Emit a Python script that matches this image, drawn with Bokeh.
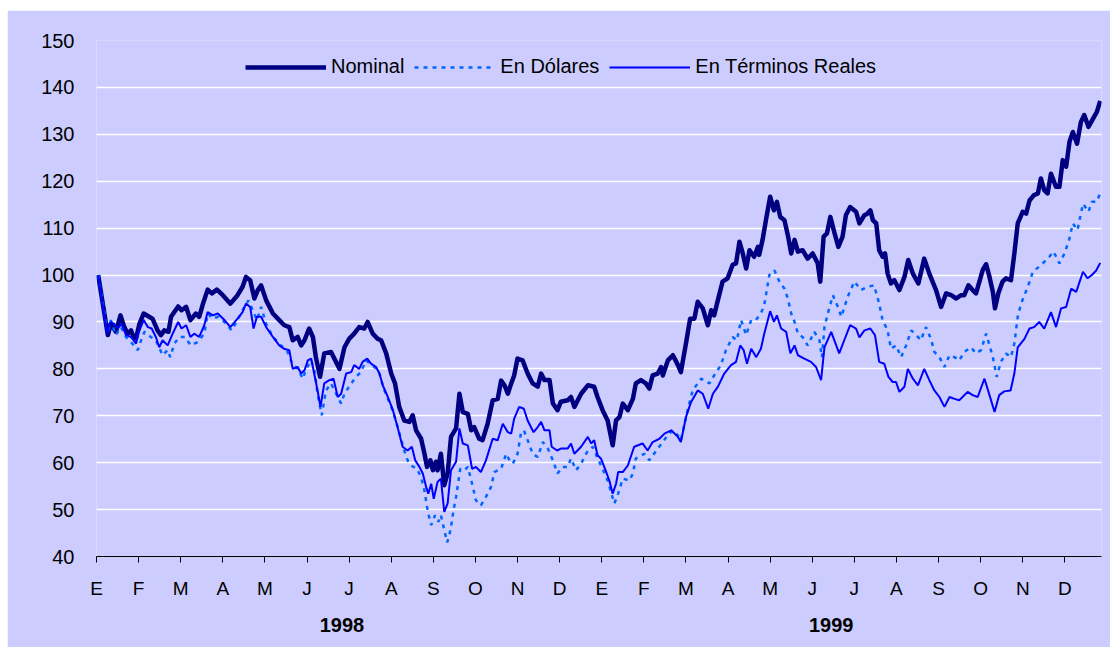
from bokeh.plotting import figure
from bokeh.models import (Range1d, FixedTicker, Legend, LegendItem, LinearAxis)
from bokeh.embed import file_html
from bokeh.resources import INLINE

# ---- data (x = months since start of Jan 1998) ----
month_letters = ["E", "F", "M", "A", "M", "J", "J", "A", "S", "O", "N", "D"]
year_labels = ["1998", "1999"]
year_centers = [5.83, 17.45]
y_ticks = [40, 50, 60, 70, 80, 90, 100, 110, 120, 130, 140, 150]

nominal_t = [0.04, 0.27, 0.34, 0.46, 0.57, 0.66, 0.74, 0.82, 0.86, 0.94, 1.02, 1.12, 1.25, 1.33, 1.45, 1.53, 1.61, 1.71, 1.77, 1.94,
             2.02, 2.13, 2.23, 2.36, 2.44, 2.52, 2.64, 2.74, 2.86, 3.00, 3.18, 3.35, 3.47, 3.55, 3.65, 3.75, 3.83, 3.91, 4.03, 4.19,
             4.34, 4.46, 4.58, 4.66, 4.78, 4.86, 4.94, 5.05, 5.14, 5.21, 5.31, 5.41, 5.57, 5.77, 5.89, 6.00, 6.12, 6.24, 6.36, 6.44,
             6.56, 6.68, 6.76, 6.88, 7.00, 7.09, 7.19, 7.31, 7.43, 7.51, 7.59, 7.71, 7.79, 7.85, 7.93, 7.99, 8.06, 8.10, 8.18, 8.26,
             8.34, 8.42, 8.54, 8.62, 8.70, 8.82, 8.90, 8.97, 9.09, 9.17, 9.29, 9.41, 9.53, 9.61, 9.69, 9.77, 9.85, 9.92, 10.00, 10.12,
             10.24, 10.36, 10.48, 10.56, 10.64, 10.76, 10.84, 10.95, 11.03, 11.19, 11.27, 11.35, 11.51, 11.67, 11.82, 11.90, 12.02, 12.14, 12.26, 12.34,
             12.42, 12.50, 12.62, 12.74, 12.81, 12.93, 13.05, 13.13, 13.21, 13.33, 13.41, 13.45, 13.57, 13.69, 13.81, 13.88, 14.00, 14.10, 14.20, 14.28,
             14.40, 14.52, 14.60, 14.67, 14.76, 14.87, 14.99, 15.11, 15.19, 15.27, 15.35, 15.43, 15.51, 15.62, 15.71, 15.74, 15.82, 15.90, 16.00, 16.09,
             16.16, 16.24, 16.34, 16.42, 16.50, 16.58, 16.66, 16.77, 16.89, 17.01, 17.13, 17.19, 17.27, 17.35, 17.43, 17.53, 17.62, 17.72, 17.80, 17.90,
             18.04, 18.12, 18.24, 18.30, 18.38, 18.44, 18.52, 18.59, 18.67, 18.73, 18.79, 18.87, 18.95, 19.07, 19.19, 19.28, 19.39, 19.52, 19.66, 19.78,
             19.94, 20.06, 20.18, 20.30, 20.42, 20.53, 20.61, 20.71, 20.81, 20.89, 20.97, 21.05, 21.13, 21.21, 21.29, 21.34, 21.42, 21.52, 21.60, 21.72,
             21.80, 21.88, 22.00, 22.08, 22.16, 22.26, 22.36, 22.43, 22.51, 22.59, 22.67, 22.79, 22.87, 22.95, 23.03, 23.11, 23.19, 23.29, 23.38, 23.46,
             23.56, 23.66, 23.76, 23.84]
nominal_v = [100.0, 87.2, 89.6, 87.9, 91.4, 88.9, 87.5, 88.2, 87.2, 86.5, 89.6, 91.8, 91.1, 90.7, 88.2, 87.2, 88.2, 87.9, 91.1, 93.3,
             92.5, 93.2, 90.4, 91.8, 91.1, 93.6, 96.9, 96.1, 96.9, 95.7, 93.9, 95.7, 97.5, 99.6, 98.9, 95.0, 96.8, 97.8, 94.6, 91.8,
             90.4, 89.3, 88.9, 86.1, 86.8, 85.0, 86.1, 88.6, 86.8, 82.5, 78.3, 83.3, 83.6, 80.0, 84.6, 86.4, 87.5, 88.9, 88.6, 90.0,
             87.5, 86.4, 86.1, 83.3, 79.0, 76.9, 71.9, 69.0, 68.7, 70.1, 66.9, 65.1, 61.9, 59.1, 60.5, 58.4, 60.2, 58.4, 61.9, 55.2,
             57.7, 65.5, 67.3, 74.7, 70.8, 70.4, 66.9, 67.6, 65.1, 64.8, 68.3, 73.3, 73.6, 77.5, 76.5, 74.7, 76.9, 78.6, 82.2, 81.8,
             79.0, 76.9, 76.2, 79.0, 77.6, 77.6, 72.6, 71.2, 73.0, 73.3, 74.0, 71.9, 74.7, 76.5, 76.2, 74.0, 71.2, 69.0, 63.7, 69.0,
             69.7, 72.6, 71.2, 73.6, 76.9, 77.6, 76.9, 75.8, 78.6, 79.0, 80.4, 78.6, 81.8, 82.9, 80.8, 79.3, 85.4, 90.7, 90.7, 94.3,
             92.9, 89.3, 92.5, 91.4, 94.7, 98.6, 99.3, 102.2, 102.5, 107.1, 104.6, 101.4, 105.3, 103.9, 106.0, 104.3, 107.5, 111.7, 116.7, 113.8,
             115.6, 112.4, 111.7, 108.5, 104.6, 107.5, 105.0, 105.3, 103.5, 104.6, 102.5, 98.6, 108.2, 108.9, 112.4, 108.9, 106.0, 108.2, 112.8, 114.5,
             113.5, 111.0, 112.8, 113.0, 113.8, 111.7, 111.0, 105.3, 103.9, 104.6, 100.3, 98.2, 98.9, 96.8, 99.6, 103.2, 100.3, 98.2, 103.5, 100.3,
             96.8, 93.2, 96.1, 95.7, 95.0, 95.7, 95.7, 97.8, 96.8, 96.1, 98.6, 101.1, 102.3, 99.6, 96.4, 92.9, 96.1, 98.6, 99.3, 98.9,
             104.6, 111.0, 113.5, 113.1, 115.9, 117.0, 117.4, 120.6, 118.1, 117.4, 121.6, 118.8, 118.8, 124.5, 123.1, 128.4, 130.5, 128.0, 132.6, 134.1,
             131.6, 133.2, 134.8, 137.1]

dolares_t = [0.04, 0.27, 0.34, 0.46, 0.58, 0.70, 0.82, 0.98, 1.06, 1.14, 1.29, 1.41, 1.57, 1.69, 1.75, 1.85, 1.97, 2.10, 2.24, 2.40,
             2.56, 2.64, 2.76, 2.88, 3.04, 3.21, 3.35, 3.51, 3.61, 3.71, 3.81, 3.91, 4.03, 4.19, 4.34, 4.54, 4.66, 4.78, 4.90, 4.98,
             5.10, 5.19, 5.25, 5.35, 5.45, 5.57, 5.69, 5.81, 5.89, 6.00, 6.16, 6.28, 6.40, 6.60, 6.72, 6.82, 7.00, 7.11, 7.31, 7.39,
             7.47, 7.61, 7.71, 7.79, 7.87, 7.95, 8.04, 8.12, 8.18, 8.26, 8.33, 8.38, 8.44, 8.48, 8.54, 8.64, 8.74, 8.82, 8.94, 9.01,
             9.13, 9.25, 9.37, 9.45, 9.61, 9.73, 9.81, 9.89, 10.00, 10.08, 10.15, 10.24, 10.36, 10.48, 10.60, 10.72, 10.84, 10.95, 11.07, 11.19,
             11.27, 11.39, 11.51, 11.67, 11.79, 11.90, 12.02, 12.14, 12.30, 12.39, 12.50, 12.66, 12.74, 12.81, 13.01, 13.13, 13.33, 13.57, 13.69, 13.84,
             13.88, 14.04, 14.16, 14.36, 14.56, 14.67, 14.83, 14.95, 15.11, 15.21, 15.31, 15.43, 15.55, 15.66, 15.78, 15.86, 15.98, 16.10, 16.22, 16.34,
             16.42, 16.50, 16.58, 16.66, 16.77, 16.89, 17.05, 17.17, 17.23, 17.29, 17.37, 17.49, 17.61, 17.69, 17.84, 18.00, 18.16, 18.32, 18.47, 18.59,
             18.67, 18.79, 18.87, 18.99, 19.11, 19.23, 19.35, 19.47, 19.58, 19.70, 19.82, 19.90, 20.02, 20.14, 20.26, 20.38, 20.49, 20.61, 20.77, 20.89,
             21.01, 21.13, 21.21, 21.29, 21.38, 21.48, 21.60, 21.72, 21.80, 21.88, 21.96, 22.12, 22.24, 22.39, 22.51, 22.63, 22.73, 22.87, 22.99, 23.10,
             23.19, 23.30, 23.43, 23.56, 23.64, 23.75, 23.84]
dolares_v = [100.0, 87.5, 90.4, 87.2, 88.9, 86.8, 85.7, 84.0, 86.1, 87.9, 86.8, 86.1, 82.9, 84.0, 82.5, 85.4, 86.8, 86.8, 85.0, 85.7,
             87.5, 91.8, 90.7, 91.1, 90.0, 88.2, 90.4, 93.2, 94.6, 92.5, 90.4, 93.2, 89.6, 86.8, 85.4, 83.6, 80.8, 80.0, 77.9, 80.0,
             81.8, 79.0, 74.7, 70.1, 75.4, 76.9, 74.7, 72.6, 74.7, 76.2, 78.3, 79.3, 81.8, 80.4, 79.0, 75.8, 71.9, 69.0, 62.6, 60.5,
             59.4, 58.7, 56.9, 54.0, 49.5, 46.7, 48.8, 47.4, 48.8, 45.6, 43.0, 44.5, 47.4, 49.9, 52.7, 58.7, 58.4, 59.1, 54.8, 52.0,
             50.9, 52.7, 54.8, 58.0, 58.7, 61.9, 60.5, 59.8, 61.9, 66.2, 66.9, 64.8, 61.9, 61.2, 64.4, 63.0, 60.5, 57.7, 59.1, 59.1,
             60.9, 58.4, 59.8, 62.6, 63.4, 61.0, 58.7, 56.2, 51.3, 53.4, 56.6, 56.2, 57.7, 60.9, 61.9, 60.5, 63.0, 65.9, 66.9, 65.5,
             64.8, 71.2, 75.4, 77.9, 76.9, 78.6, 80.8, 84.0, 86.8, 86.1, 90.4, 87.2, 90.4, 90.4, 91.8, 93.6, 100.0, 101.0, 98.6, 97.1,
             95.0, 91.8, 90.0, 87.5, 86.8, 85.0, 87.9, 86.1, 82.5, 88.9, 91.8, 95.7, 93.2, 91.1, 95.3, 98.6, 96.8, 97.5, 97.8, 93.9,
             90.4, 88.2, 84.3, 85.0, 82.5, 85.0, 88.2, 87.2, 86.1, 88.9, 86.4, 83.6, 82.5, 80.4, 82.9, 82.5, 81.8, 83.6, 84.6, 83.3,
             84.0, 87.5, 85.0, 82.5, 78.3, 81.5, 83.3, 82.5, 85.4, 91.1, 93.9, 97.5, 100.7, 101.8, 102.8, 103.9, 105.0, 102.5, 104.6, 107.5,
             111.0, 109.6, 115.2, 113.5, 115.6, 115.6, 117.4]

reales_t = [0.04, 0.25, 0.33, 0.42, 0.50, 0.60, 0.70, 0.82, 0.94, 0.99, 1.12, 1.22, 1.31, 1.41, 1.49, 1.57, 1.69, 1.81, 1.94, 2.02,
            2.13, 2.23, 2.32, 2.44, 2.56, 2.64, 2.76, 2.88, 3.04, 3.18, 3.35, 3.47, 3.55, 3.65, 3.73, 3.81, 3.91, 4.03, 4.19, 4.34,
            4.45, 4.58, 4.66, 4.78, 4.86, 4.94, 5.02, 5.10, 5.17, 5.25, 5.32, 5.41, 5.53, 5.63, 5.73, 5.81, 5.93, 6.05, 6.12, 6.24,
            6.32, 6.43, 6.52, 6.64, 6.72, 6.80, 6.92, 7.04, 7.15, 7.27, 7.39, 7.49, 7.57, 7.67, 7.75, 7.83, 7.88, 7.95, 8.01, 8.10,
            8.18, 8.26, 8.34, 8.42, 8.54, 8.62, 8.70, 8.82, 8.92, 9.01, 9.13, 9.25, 9.41, 9.53, 9.65, 9.77, 9.85, 9.92, 10.04, 10.15,
            10.24, 10.38, 10.48, 10.56, 10.64, 10.76, 10.81, 10.94, 11.03, 11.19, 11.27, 11.35, 11.51, 11.67, 11.75, 11.82, 11.90, 11.98, 12.06, 12.18,
            12.26, 12.34, 12.39, 12.50, 12.62, 12.77, 12.97, 13.09, 13.21, 13.37, 13.49, 13.65, 13.81, 13.88, 14.00, 14.12, 14.28, 14.40, 14.53, 14.64,
            14.76, 14.91, 15.07, 15.19, 15.29, 15.37, 15.45, 15.55, 15.67, 15.78, 15.86, 16.00, 16.09, 16.16, 16.26, 16.38, 16.48, 16.58, 16.66, 16.81,
            16.97, 17.09, 17.21, 17.29, 17.45, 17.57, 17.64, 17.76, 17.90, 18.04, 18.12, 18.24, 18.38, 18.49, 18.59, 18.71, 18.81, 18.91, 18.99, 19.07,
            19.19, 19.27, 19.39, 19.51, 19.66, 19.78, 19.90, 20.02, 20.14, 20.26, 20.38, 20.49, 20.57, 20.69, 20.81, 20.93, 21.09, 21.21, 21.33, 21.44,
            21.56, 21.71, 21.80, 21.88, 22.04, 22.16, 22.27, 22.39, 22.51, 22.67, 22.79, 22.91, 23.03, 23.15, 23.27, 23.43, 23.54, 23.64, 23.74, 23.84]
reales_v = [100.0, 87.5, 90.0, 89.6, 88.6, 89.6, 87.2, 86.8, 85.4, 87.5, 90.4, 88.9, 88.6, 86.8, 84.6, 86.1, 85.0, 87.5, 90.0, 88.6,
            89.3, 86.8, 87.5, 86.8, 89.3, 92.1, 91.4, 91.8, 90.4, 88.9, 90.7, 92.1, 93.9, 93.2, 88.6, 91.1, 91.1, 88.9, 86.8, 85.0,
            84.3, 84.0, 80.0, 80.4, 79.0, 79.7, 81.8, 82.2, 79.0, 75.4, 71.9, 76.9, 77.6, 77.9, 74.0, 74.7, 79.0, 79.3, 80.8, 80.0,
            81.5, 82.2, 81.1, 80.4, 79.0, 76.5, 74.0, 71.2, 67.6, 63.4, 62.6, 63.4, 60.5, 59.1, 57.7, 54.8, 53.4, 55.5, 52.3, 55.9,
            56.6, 49.5, 51.3, 58.4, 60.2, 67.3, 64.1, 63.7, 58.7, 59.1, 58.0, 60.5, 65.1, 64.8, 68.3, 66.5, 66.2, 69.4, 71.9, 71.5,
            69.0, 66.5, 67.6, 68.7, 66.9, 66.9, 63.4, 62.6, 63.0, 63.0, 64.1, 61.9, 63.4, 65.5, 64.1, 64.8, 61.6, 60.9, 59.1, 56.2,
            53.4, 55.5, 58.0, 58.0, 59.4, 63.4, 64.1, 62.6, 64.4, 65.1, 66.2, 66.9, 65.5, 64.4, 69.7, 72.9, 75.4, 74.7, 71.5, 74.7,
            76.2, 79.0, 80.8, 81.5, 85.0, 84.0, 81.1, 84.3, 82.5, 84.3, 87.5, 92.3, 90.0, 91.4, 88.6, 87.9, 83.3, 85.0, 82.9, 82.2,
            81.5, 80.4, 77.6, 84.6, 87.9, 85.0, 83.3, 86.1, 89.3, 88.6, 86.7, 88.2, 88.6, 87.2, 81.5, 81.1, 78.3, 77.2, 77.2, 75.1,
            76.2, 80.0, 77.9, 76.5, 80.0, 77.6, 75.4, 74.0, 71.9, 74.0, 73.6, 73.3, 74.0, 75.1, 74.4, 74.0, 77.9, 74.4, 70.8, 74.4,
            75.2, 75.4, 79.0, 84.6, 86.4, 88.6, 88.9, 90.0, 88.6, 92.1, 88.9, 92.9, 93.2, 97.1, 96.4, 100.7, 99.3, 100.0, 100.9, 102.6]

series_names = ["Nominal", "En Dólares", "En Términos Reales"]

# ---- styling ----
BG = "#CCCCFF"
FONT = "Liberation Sans"

p = figure(width=1103, height=637, output_backend="svg", toolbar_location=None,
           x_range=Range1d(0, 23.87), y_range=Range1d(40, 150),
           min_border_left=89, min_border_right=9, min_border_top=30, min_border_bottom=91)
p.margin = (10, 0, 0, 7)
p.background_fill_color = BG
p.border_fill_color = BG
p.outline_line_color = None

p.xgrid.grid_line_color = None
p.ygrid.grid_line_color = "white"
p.ygrid.grid_line_width = 1.5
p.ygrid.ticker = FixedTicker(ticks=y_ticks[1:])

# y axis
p.yaxis.ticker = FixedTicker(ticks=y_ticks)
p.yaxis.axis_line_color = None
p.yaxis.major_tick_line_color = None
p.yaxis.minor_tick_line_color = None
p.yaxis.major_label_text_font = FONT
p.yaxis.major_label_text_font_size = "20px"
p.yaxis.major_label_text_color = "black"
p.yaxis.major_label_standoff = 16

# x axis (months)
p.xaxis.ticker = FixedTicker(ticks=list(range(24)))
p.xaxis.major_label_overrides = {i: month_letters[i % 12] for i in range(24)}
p.xaxis.axis_line_color = "black"
p.xaxis.axis_line_width = 1.2
p.xaxis.major_tick_line_color = "black"
p.xaxis.major_tick_out = 6
p.xaxis.major_tick_in = 0
p.xaxis.minor_tick_line_color = None
p.xaxis.major_label_text_font = FONT
p.xaxis.major_label_text_font_size = "19px"
p.xaxis.major_label_text_color = "black"
p.xaxis.major_label_standoff = 15

# second axis below for years
year_axis = LinearAxis(ticker=FixedTicker(ticks=year_centers),
                       major_label_overrides={c: l for c, l in zip(year_centers, year_labels)},
                       axis_line_color=None, major_tick_line_color=None, minor_tick_line_color=None,
                       major_label_text_font=FONT, major_label_text_font_size="20px",
                       major_label_text_font_style="bold", major_label_text_color="black",
                       major_label_standoff=10)
p.add_layout(year_axis, "below")

r_nom = p.line(nominal_t, nominal_v, line_color="#000080", line_width=4.5, line_join="round")
r_dol = p.line(dolares_t, dolares_v, line_color="#0066FF", line_width=2.5, line_dash="4 5")
r_real = p.line(reales_t, reales_v, line_color="#0000FF", line_width=2)

legend = Legend(items=[LegendItem(label=series_names[0], renderers=[r_nom]),
                       LegendItem(label=series_names[1], renderers=[r_dol]),
                       LegendItem(label=series_names[2], renderers=[r_real])],
                orientation="horizontal", location=(149, 478),
                background_fill_alpha=0, border_line_color=None,
                padding=0, margin=0, spacing=10, label_standoff=5,
                glyph_width=81, glyph_height=20, label_height=20,
                label_text_font=FONT, label_text_font_size="20px", label_text_color="black")
p.add_layout(legend, "center")

open("out.html", "w").write(file_html(p, INLINE))
